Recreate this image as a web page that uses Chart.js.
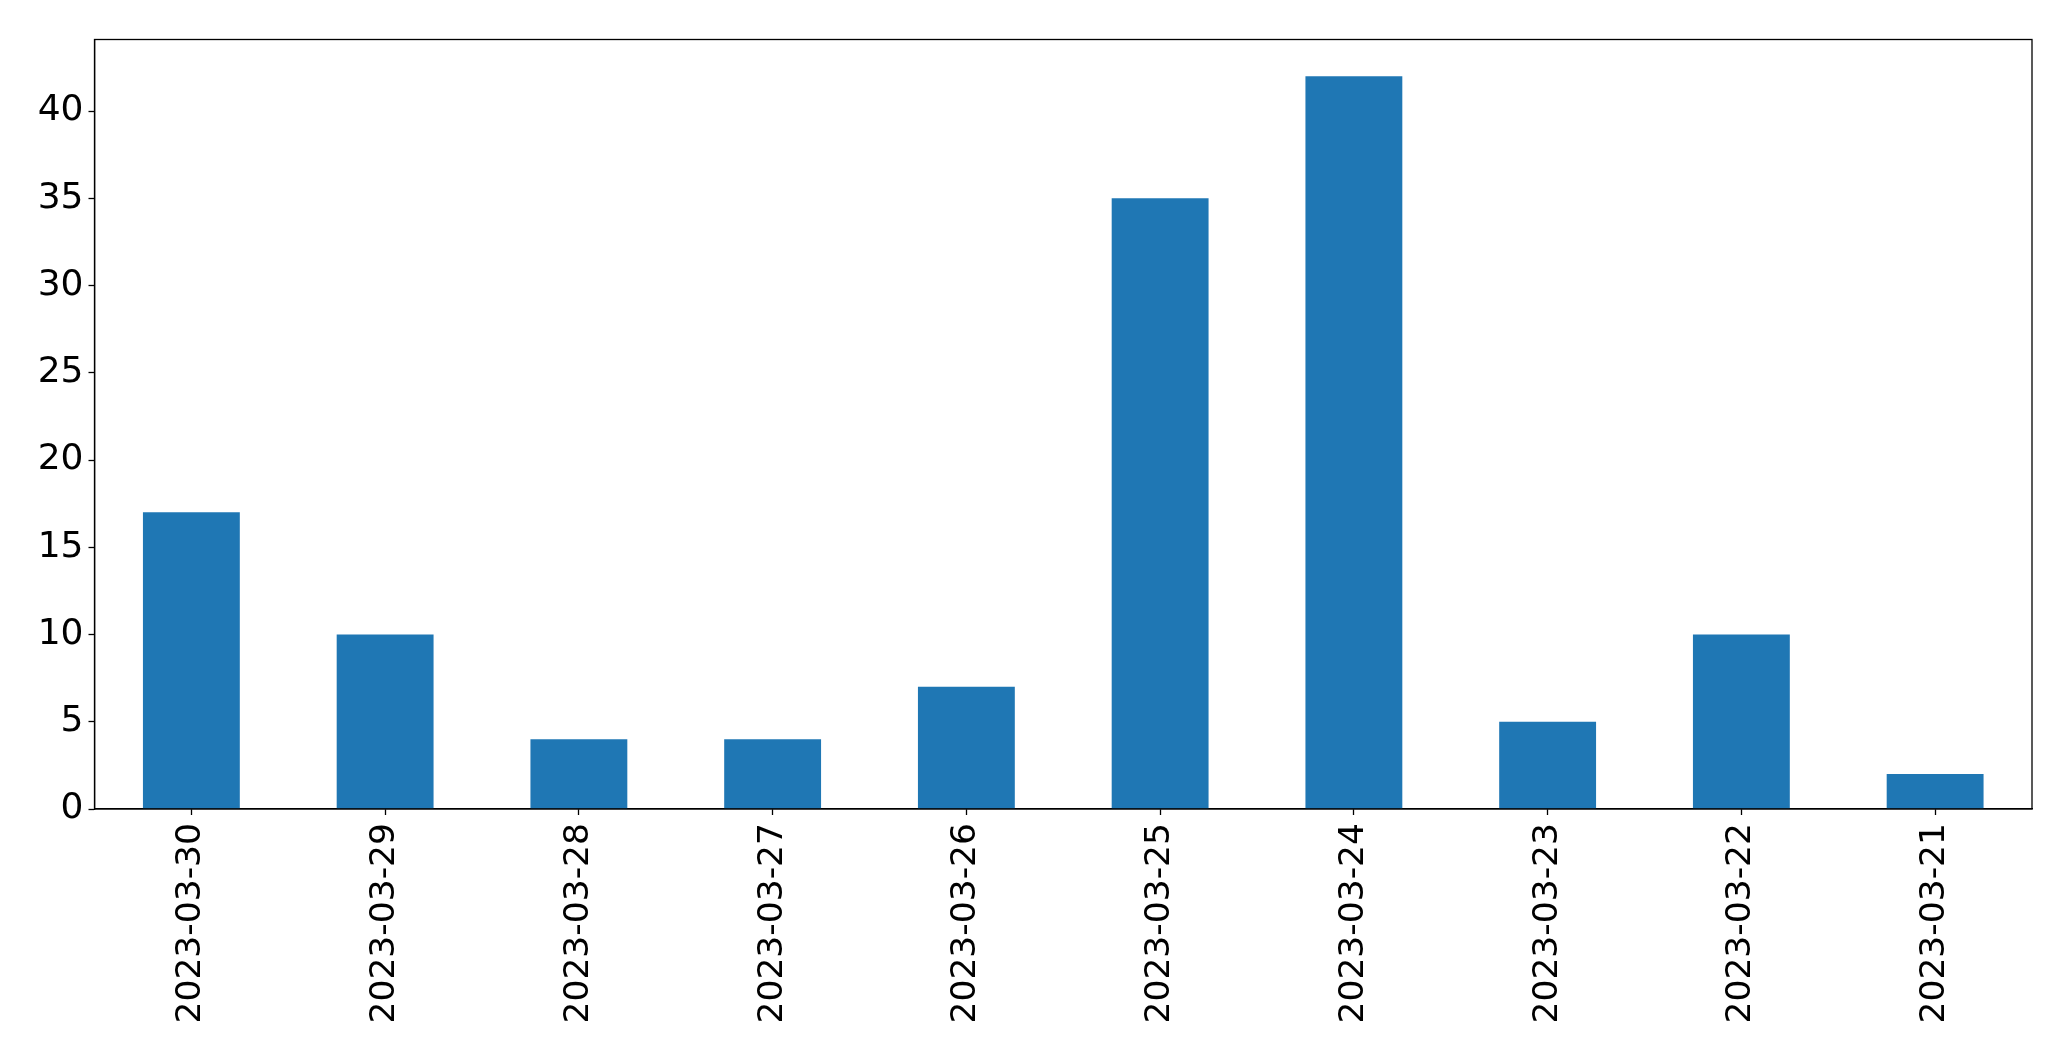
<!DOCTYPE html>
<html>
<head>
<meta charset="utf-8">
<script src="https://cdn.jsdelivr.net/npm/chart.js@4/dist/chart.umd.min.js"></script>
<style>
html,body{margin:0;padding:0;background:#fff;}
#wrap{width:2071px;height:1061px;position:relative;}
</style>
</head>
<body>
<div id="wrap"><canvas id="c" width="2071" height="1061"></canvas></div>
<script>
const categories = ["2023-03-30","2023-03-29","2023-03-28","2023-03-27","2023-03-26","2023-03-25","2023-03-24","2023-03-23","2023-03-22","2023-03-21"];
const counts = [17, 10, 4, 4, 7, 35, 42, 5, 10, 2];
const yMin = 0;
const yMax = 44.1;
const yStep = 5;

const frame = {
  id: 'frame',
  afterDraw(chart) {
    const a = chart.chartArea, ctx = chart.ctx;
    ctx.save();
    ctx.strokeStyle = '#000';
    ctx.lineWidth = 1.3;
    ctx.strokeRect(a.left, a.top, a.right - a.left, a.bottom - a.top);
    ctx.restore();
  }
};

new Chart(document.getElementById('c'), {
  type: 'bar',
  data: {
    labels: categories,
    datasets: [{
      data: counts,
      backgroundColor: '#1f77b4',
      borderWidth: 0,
      barPercentage: 0.5,
      categoryPercentage: 1.0
    }]
  },
  options: {
    responsive: false,
    animation: false,
    devicePixelRatio: 1,
    layout: { padding: { top: 39.5, right: 39, bottom: 0, left: 0 } },
    plugins: { legend: { display: false }, tooltip: { enabled: false } },
    scales: {
      x: {
        offset: true,
        grid: { display: true, offset: false, drawOnChartArea: false, drawTicks: true, tickLength: 6, tickColor: '#000', color: '#000', tickWidth: 1.3 },
        border: { display: true, color: '#000', width: 1.3 },
        ticks: {
          color: '#000',
          font: { family: 'DejaVu Sans', size: 34.5 },
          maxRotation: 90, minRotation: 90,
          padding: 8,
          autoSkip: false
        },
        afterFit(s) { s.height = 1061 - 809; }
      },
      y: {
        min: yMin, max: yMax,
        grid: { display: true, drawOnChartArea: false, drawTicks: true, tickLength: 6, tickColor: '#000', color: '#000', tickWidth: 1.3 },
        border: { display: true, color: '#000', width: 1.3 },
        ticks: {
          stepSize: yStep,
          includeBounds: false,
          color: '#000',
          font: { family: 'DejaVu Sans', size: 36 },
          padding: 5
        },
        afterFit(s) { s.width = 94.5; }
      }
    }
  },
  plugins: [frame]
});
</script>
</body>
</html>
